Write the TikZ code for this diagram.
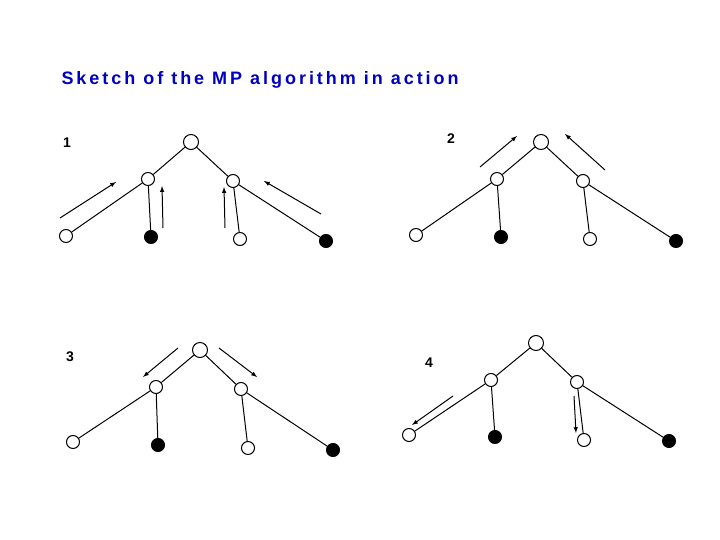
\documentclass[tikz,border=0pt]{standalone}
\usepackage{fontspec}
\setmainfont{Liberation Sans}
\newfontfamily\titlefont[LetterSpace=16.5]{Liberation Sans}
\begin{document}
\begin{tikzpicture}[x=1pt,y=-1pt,
  on/.style={circle,draw,line width=1pt,minimum size=15pt,inner sep=0pt,fill=white},
  off/.style={on,minimum size=13pt},
  fl/.style={circle,draw,line width=1pt,minimum size=13pt,inner sep=0pt,fill=black},
  ed/.style={line width=1pt},
  msg/.style={line width=1pt,-latex},
  lab/.style={font=\fontsize{14}{16}\selectfont\bfseries}]
\useasboundingbox (0,0) rectangle (720,540);
\node[anchor=west,text=blue!75!black,font=\titlefont\fontsize{18}{20}\selectfont\bfseries] (t) at (58,80) {Sketch of the MP algorithm in action};
\node[lab] (l1) at (67,143) {1};
\node[lab] (l2) at (451,139) {2};
\node[lab] (l3) at (70,357) {3};
\node[lab] (l4) at (429,363) {4};
\newcommand\mytree[9]{%
 \node[on] (#1r) at (#2) {};
 \node[off] (#1a) at (#3) {};
 \node[off] (#1b) at (#4) {};
 \node[off] (#1c) at (#5) {};
 \node[fl] (#1d) at (#6) {};
 \node[off] (#1e) at (#7) {};
 \node[fl] (#1f) at (#8) {};
 \draw[ed] (#1r)--(#1a) (#1r)--(#1b) (#1a)--(#1c) (#1a)--(#1d) (#1b)--(#1e) (#1b)--(#1f);}
\mytree{p}{191,142}{148,179}{233,181}{66,236}{151,237}{240,239}{326,241}{}
\mytree{q}{541,142}{497,179}{583,181}{416,235}{501,237}{590,239}{676,241}{}
\mytree{s}{200,350}{156,387}{241,389}{73,442}{158,445}{248,448}{333,450}{}
\mytree{u}{536,343}{491,380}{577,382}{409,435}{495,437}{584,440}{669,441}{}
\coordinate (a1) at (60,218); \coordinate (a2) at (116,182);
\coordinate (b1) at (163,228); \coordinate (b2) at (162,186);
\coordinate (c1) at (225,228); \coordinate (c2) at (224,187);
\coordinate (d1) at (321,214); \coordinate (d2) at (264,181);
\coordinate (e1) at (480,167); \coordinate (e2) at (517,136);
\coordinate (f1) at (605,170); \coordinate (f2) at (565,134);
\coordinate (g1) at (178,348); \coordinate (g2) at (143,377);
\coordinate (h1) at (219,348); \coordinate (h2) at (257,377);
\coordinate (i1) at (453,396); \coordinate (i2) at (412,425);
\coordinate (j1) at (574,396); \coordinate (j2) at (576,433);
\foreach \m in {a,b,c,d,e,f,g,h,i,j} \draw[msg] (\m1)--(\m2);
\end{tikzpicture}
\end{document}
